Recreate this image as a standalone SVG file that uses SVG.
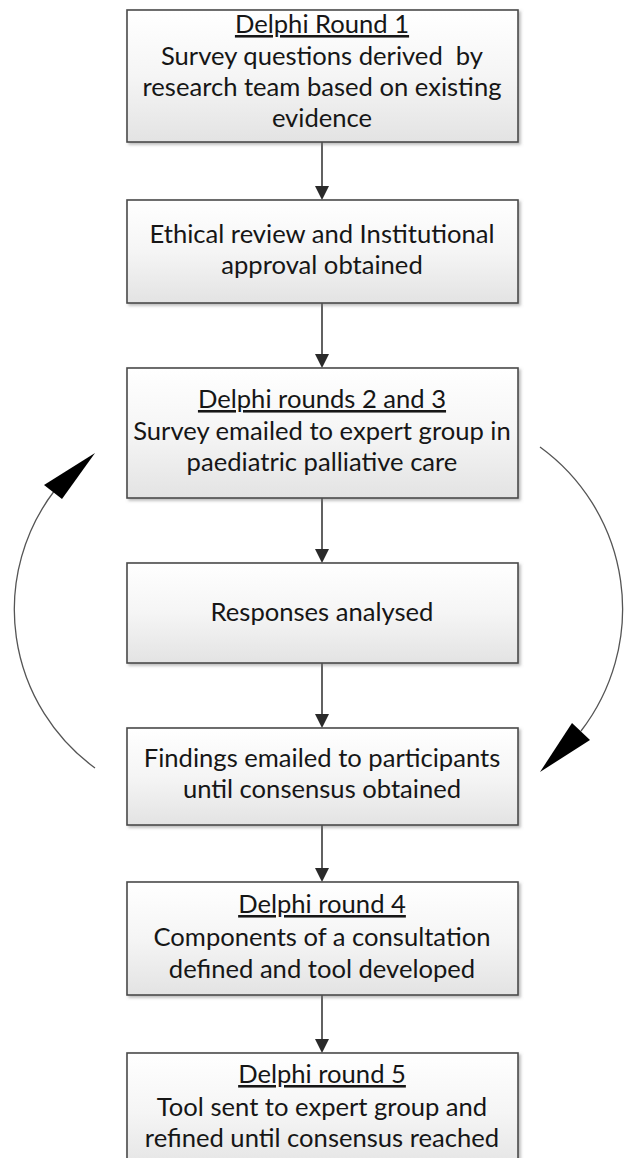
<svg xmlns="http://www.w3.org/2000/svg" width="624" height="1158" viewBox="0 0 624 1158">
<style>
.box{fill:url(#g);stroke:#4a4a4a;stroke-width:1.6;filter:url(#sh)}
.t{font-family:Lato,"Liberation Sans",sans-serif;font-size:25.6px;fill:#161616;text-anchor:middle}
.u{text-decoration:underline}
.c{stroke:#3a3a3a;stroke-width:1.6;fill:none}
.a{fill:#2a2a2a}
.arc{stroke:#555;stroke-width:1.3;fill:none}
.ah{fill:#000}
</style>
<defs>
<linearGradient id="g" x1="0" y1="0" x2="0" y2="1">
<stop offset="0" stop-color="#ffffff"/>
<stop offset="0.5" stop-color="#f5f5f5"/>
<stop offset="1" stop-color="#e3e3e3"/>
</linearGradient>
<filter id="sh" x="-5%" y="-5%" width="112%" height="115%">
<feDropShadow dx="2" dy="2" stdDeviation="1.5" flood-color="#777" flood-opacity="0.5"/>
</filter>
</defs>
<g id="connectors">
<line class="c" x1="322" y1="142" x2="322" y2="188"/><polygon class="a" points="315,186 329,186 322,200"/>
<line class="c" x1="322" y1="303" x2="322" y2="356"/><polygon class="a" points="315,354 329,354 322,368"/>
<line class="c" x1="322" y1="498" x2="322" y2="551"/><polygon class="a" points="315,549 329,549 322,563"/>
<line class="c" x1="322" y1="663" x2="322" y2="716"/><polygon class="a" points="315,714 329,714 322,728"/>
<line class="c" x1="322" y1="825" x2="322" y2="870"/><polygon class="a" points="315,868 329,868 322,882"/>
<line class="c" x1="322" y1="995" x2="322" y2="1041"/><polygon class="a" points="315,1039 329,1039 322,1053"/>
<path class="arc" d="M 95 768 A 196 196 0 0 1 55 490"/>
<polygon class="ah" points="95,453 44,485 62,499"/>
<path class="arc" d="M 540 447 A 200 200 0 0 1 581 731"/>
<polygon class="ah" points="540,772 572,723 590,740"/>
</g>
<g id="n1">
<rect class="box" x="127" y="10" width="391" height="132"/>
<text class="t u" x="322" y="33">Delphi Round 1</text>
<text class="t" x="322" y="65" xml:space="preserve">Survey questions derived  by</text>
<text class="t" x="322" y="96">research team based on existing</text>
<text class="t" x="322" y="127">evidence</text>
</g>
<g id="n2">
<rect class="box" x="127" y="200" width="391" height="103"/>
<text class="t" x="322" y="243">Ethical review and Institutional</text>
<text class="t" x="322" y="274">approval obtained</text>
</g>
<g id="n3">
<rect class="box" x="127" y="368" width="391" height="130"/>
<text class="t u" x="322" y="408">Delphi rounds 2 and 3</text>
<text class="t" x="322" y="440">Survey emailed to expert group in</text>
<text class="t" x="322" y="471">paediatric palliative care</text>
</g>
<g id="n4">
<rect class="box" x="127" y="563" width="391" height="100"/>
<text class="t" x="322" y="621">Responses analysed</text>
</g>
<g id="n5">
<rect class="box" x="127" y="728" width="391" height="97"/>
<text class="t" x="322" y="767">Findings emailed to participants</text>
<text class="t" x="322" y="798">until consensus obtained</text>
</g>
<g id="n6">
<rect class="box" x="127" y="882" width="391" height="113"/>
<text class="t u" x="322" y="913">Delphi round 4</text>
<text class="t" x="322" y="946">Components of a consultation</text>
<text class="t" x="322" y="978">defined and tool developed</text>
</g>
<g id="n7">
<rect class="box" x="127" y="1053" width="391" height="120"/>
<text class="t u" x="322" y="1083">Delphi round 5</text>
<text class="t" x="322" y="1116">Tool sent to expert group and</text>
<text class="t" x="322" y="1147">refined until consensus reached</text>
</g>
</svg>
